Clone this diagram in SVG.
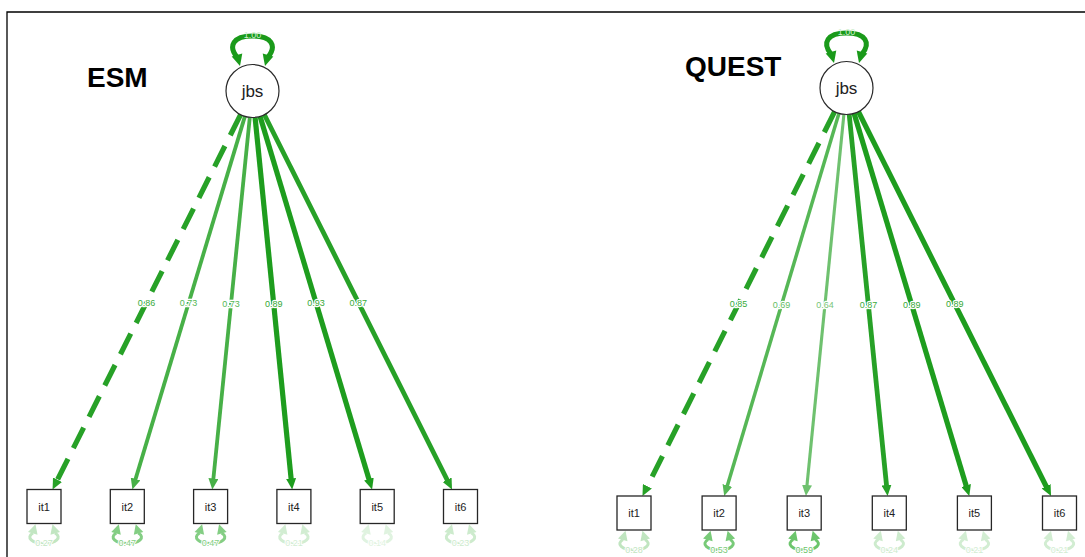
<svg xmlns="http://www.w3.org/2000/svg" xmlns:xlink="http://www.w3.org/1999/xlink" width="1085" height="557" viewBox="0 0 1085 557">
  <style>
    .title { font-family: "Liberation Sans", Arial, sans-serif; font-weight: bold; font-size: 28px; fill: #000; }
    .latent circle { fill: #fff; stroke: #2a2a2a; stroke-width: 1.2; }
    .latent text { font-family: "Liberation Sans", Arial, sans-serif; font-size: 17px; fill: #222; text-anchor: middle; }
    .item rect { fill: #fff; stroke: #262626; stroke-width: 1.3; }
    .item text { font-family: "Liberation Sans", Arial, sans-serif; font-size: 11px; fill: #222; text-anchor: middle; }
    .edge { fill: none; }
    .k1 { stroke: #1e9d1e; stroke-width: 5.2; }
    .k2 { stroke: #27a127; stroke-width: 4.8; }
    .k3 { stroke: #47b047; stroke-width: 3.8; }
    .k4 { stroke: #56b756; stroke-width: 3.5; }
    .k5 { stroke: #6fc16f; stroke-width: 3.1; }
    .dash { stroke-dasharray: 23 12; stroke-width: 5.2; }
    .elab { font-family: "Liberation Sans", Arial, sans-serif; font-size: 9px; text-anchor: middle; stroke: #fff; stroke-width: 2.4; paint-order: stroke; }
    .rlab { font-family: "Liberation Sans", Arial, sans-serif; font-size: 9px; text-anchor: middle; fill: currentColor; stroke: #fff; stroke-width: 2; paint-order: stroke; }
    .vlab { font-family: "Liberation Sans", Arial, sans-serif; font-size: 9px; text-anchor: middle; fill: #cfeecf; }
  </style>
  <defs>
    <marker id="ah1" viewBox="0 0 11 10" refX="2" refY="5" markerWidth="11" markerHeight="10" markerUnits="userSpaceOnUse" orient="auto"><path d="M0,0 L11,5 L0,10 z" fill="#1e9d1e"/></marker>
    <marker id="ah2" viewBox="0 0 11 10" refX="2" refY="5" markerWidth="11" markerHeight="10" markerUnits="userSpaceOnUse" orient="auto"><path d="M0,0 L11,5 L0,10 z" fill="#27a127"/></marker>
    <marker id="ah3" viewBox="0 0 11 10" refX="2" refY="5" markerWidth="11" markerHeight="10" markerUnits="userSpaceOnUse" orient="auto"><path d="M0,0 L11,5 L0,10 z" fill="#47b047"/></marker>
    <marker id="ah4" viewBox="0 0 11 10" refX="2" refY="5" markerWidth="11" markerHeight="10" markerUnits="userSpaceOnUse" orient="auto"><path d="M0,0 L11,5 L0,10 z" fill="#56b756"/></marker>
    <marker id="ah5" viewBox="0 0 11 10" refX="2" refY="5" markerWidth="11" markerHeight="10" markerUnits="userSpaceOnUse" orient="auto"><path d="M0,0 L11,5 L0,10 z" fill="#6fc16f"/></marker>
    <!-- residual variance loop, origin at the bottom centre of an item box -->
    <g id="resloop">
      <path d="M-11,9.5 C-18.5,14 -12,20 0,20 C12,20 18.5,14 11,9.5" fill="none" stroke="currentColor" stroke-width="3"/>
      <polygon points="-8.5,0.8 -16,8.5 -6.5,11.2" fill="currentColor"/>
      <polygon points="8.5,0.8 16,8.5 6.5,11.2" fill="currentColor"/>
    </g>
    <!-- latent variance loop, origin at the latent centre -->
    <g id="varloop">
      <path d="M-15.5,-34 C-24.5,-45 -19.5,-55 0,-55 C19.5,-55 24.5,-45 15.5,-34" fill="none" stroke="#1a9a1a" stroke-width="5"/>
      <polygon points="-12.5,-25 -20.8,-34.5 -10.2,-37.5" fill="#1a9a1a"/>
      <polygon points="12.5,-25 20.8,-34.5 10.2,-37.5" fill="#1a9a1a"/>
    </g>
  </defs>

  <rect width="1085" height="557" fill="#fff"/>
  <path d="M7,557 V12 H1085" fill="none" stroke="#000" stroke-width="1.3"/>

  <text class="title" x="87" y="87">ESM</text>
  <text class="title" x="685" y="76">QUEST</text>

  <!-- connectors -->
  <g id="connectors">
    <!-- ESM loadings -->
    <line class="edge k2 dash" x1="240.6" y1="114.7" x2="56.6" y2="481.5" marker-end="url(#ah2)"/>
    <line class="edge k3" x1="244.9" y1="116.4" x2="135.0" y2="480.9" marker-end="url(#ah3)"/>
    <line class="edge k3" x1="249.8" y1="117.4" x2="213.2" y2="480.5" marker-end="url(#ah3)"/>
    <line class="edge k1" x1="255.1" y1="117.4" x2="291.3" y2="480.5" marker-end="url(#ah1)"/>
    <line class="edge k1" x1="260.1" y1="116.4" x2="369.5" y2="480.9" marker-end="url(#ah1)"/>
    <line class="edge k2" x1="264.4" y1="114.7" x2="448.0" y2="481.5" marker-end="url(#ah2)"/>
    <!-- QUEST loadings -->
    <line class="edge k2 dash" x1="834.6" y1="111.7" x2="646.5" y2="488.0" marker-end="url(#ah2)"/>
    <line class="edge k4" x1="838.9" y1="113.4" x2="726.8" y2="487.4" marker-end="url(#ah4)"/>
    <line class="edge k5" x1="843.9" y1="114.4" x2="806.8" y2="487.0" marker-end="url(#ah5)"/>
    <line class="edge k2" x1="849.2" y1="114.4" x2="886.7" y2="487.0" marker-end="url(#ah2)"/>
    <line class="edge k1" x1="854.1" y1="113.4" x2="966.7" y2="487.4" marker-end="url(#ah1)"/>
    <line class="edge k1" x1="858.4" y1="111.7" x2="1047.0" y2="488.0" marker-end="url(#ah1)"/>

    <!-- latent variances -->
    <use xlink:href="#varloop" x="252.5" y="91"/>
    <text class="vlab" x="252.5" y="38">1.00</text>
    <use xlink:href="#varloop" x="846.5" y="88"/>
    <text class="vlab" x="846.5" y="35">1.00</text>

    <!-- residual variances, ESM -->
    <use xlink:href="#resloop" x="44" y="523.5" style="color:#c2e6c2"/>
    <use xlink:href="#resloop" x="127.3" y="523.5" style="color:#84ce84"/>
    <use xlink:href="#resloop" x="210.6" y="523.5" style="color:#84ce84"/>
    <use xlink:href="#resloop" x="293.9" y="523.5" style="color:#d2edd2"/>
    <use xlink:href="#resloop" x="377.2" y="523.5" style="color:#e0f3e0"/>
    <use xlink:href="#resloop" x="460.5" y="523.5" style="color:#cdebcd"/>
    <!-- residual variances, QUEST -->
    <use xlink:href="#resloop" x="634" y="530" style="color:#c0e5c0"/>
    <use xlink:href="#resloop" x="719.1" y="530" style="color:#78ca78"/>
    <use xlink:href="#resloop" x="804.2" y="530" style="color:#6cc56c"/>
    <use xlink:href="#resloop" x="889.3" y="530" style="color:#cdebcd"/>
    <use xlink:href="#resloop" x="974.4" y="530" style="color:#d2edd2"/>
    <use xlink:href="#resloop" x="1059.5" y="530" style="color:#d2edd2"/>

    <!-- loading labels -->
    <text class="elab" x="146.6" y="305.5" fill="#3aab3a">0.86</text>
    <text class="elab" x="188.6" y="306.2" fill="#55b755">0.73</text>
    <text class="elab" x="231.1" y="306.6" fill="#55b755">0.73</text>
    <text class="elab" x="273.7" y="306.6" fill="#34a834">0.89</text>
    <text class="elab" x="316.1" y="306.2" fill="#34a834">0.93</text>
    <text class="elab" x="358.2" y="305.5" fill="#3aab3a">0.87</text>
    <text class="elab" x="738.6" y="307.3" fill="#3aab3a">0.85</text>
    <text class="elab" x="781.6" y="308.0" fill="#62bd62">0.69</text>
    <text class="elab" x="824.9" y="308.4" fill="#78c578">0.64</text>
    <text class="elab" x="868.4" y="308.4" fill="#3aab3a">0.87</text>
    <text class="elab" x="911.7" y="308.0" fill="#34a834">0.89</text>
    <text class="elab" x="954.7" y="307.3" fill="#34a834">0.89</text>

    <!-- residual labels -->
    <text class="rlab" x="44" y="546" style="color:#c2e6c2">0.27</text>
    <text class="rlab" x="127.3" y="546" style="color:#84ce84">0.47</text>
    <text class="rlab" x="210.6" y="546" style="color:#84ce84">0.47</text>
    <text class="rlab" x="293.9" y="546" style="color:#d2edd2">0.21</text>
    <text class="rlab" x="377.2" y="546" style="color:#e0f3e0">0.14</text>
    <text class="rlab" x="460.5" y="546" style="color:#cdebcd">0.23</text>
    <text class="rlab" x="634" y="552.5" style="color:#c0e5c0">0.28</text>
    <text class="rlab" x="719.1" y="552.5" style="color:#78ca78">0.53</text>
    <text class="rlab" x="804.2" y="552.5" style="color:#6cc56c">0.59</text>
    <text class="rlab" x="889.3" y="552.5" style="color:#cdebcd">0.24</text>
    <text class="rlab" x="974.4" y="552.5" style="color:#d2edd2">0.21</text>
    <text class="rlab" x="1059.5" y="552.5" style="color:#d2edd2">0.21</text>
  </g>

  <!-- ESM model -->
  <g id="esm_jbs" class="latent"><circle cx="252.5" cy="91" r="26.5"/><text x="252.5" y="97">jbs</text></g>
  <g id="esm_it1" class="item"><rect x="27" y="489.5" width="34" height="34"/><text x="44" y="510.5">it1</text></g>
  <g id="esm_it2" class="item"><rect x="110.3" y="489.5" width="34" height="34"/><text x="127.3" y="510.5">it2</text></g>
  <g id="esm_it3" class="item"><rect x="193.6" y="489.5" width="34" height="34"/><text x="210.6" y="510.5">it3</text></g>
  <g id="esm_it4" class="item"><rect x="276.9" y="489.5" width="34" height="34"/><text x="293.9" y="510.5">it4</text></g>
  <g id="esm_it5" class="item"><rect x="360.2" y="489.5" width="34" height="34"/><text x="377.2" y="510.5">it5</text></g>
  <g id="esm_it6" class="item"><rect x="443.5" y="489.5" width="34" height="34"/><text x="460.5" y="510.5">it6</text></g>

  <!-- QUEST model -->
  <g id="quest_jbs" class="latent"><circle cx="846.5" cy="88" r="26.5"/><text x="846.5" y="94">jbs</text></g>
  <g id="quest_it1" class="item"><rect x="617" y="496" width="34" height="34"/><text x="634" y="517">it1</text></g>
  <g id="quest_it2" class="item"><rect x="702.1" y="496" width="34" height="34"/><text x="719.1" y="517">it2</text></g>
  <g id="quest_it3" class="item"><rect x="787.2" y="496" width="34" height="34"/><text x="804.2" y="517">it3</text></g>
  <g id="quest_it4" class="item"><rect x="872.3" y="496" width="34" height="34"/><text x="889.3" y="517">it4</text></g>
  <g id="quest_it5" class="item"><rect x="957.4" y="496" width="34" height="34"/><text x="974.4" y="517">it5</text></g>
  <g id="quest_it6" class="item"><rect x="1042.5" y="496" width="34" height="34"/><text x="1059.5" y="517">it6</text></g>
</svg>
